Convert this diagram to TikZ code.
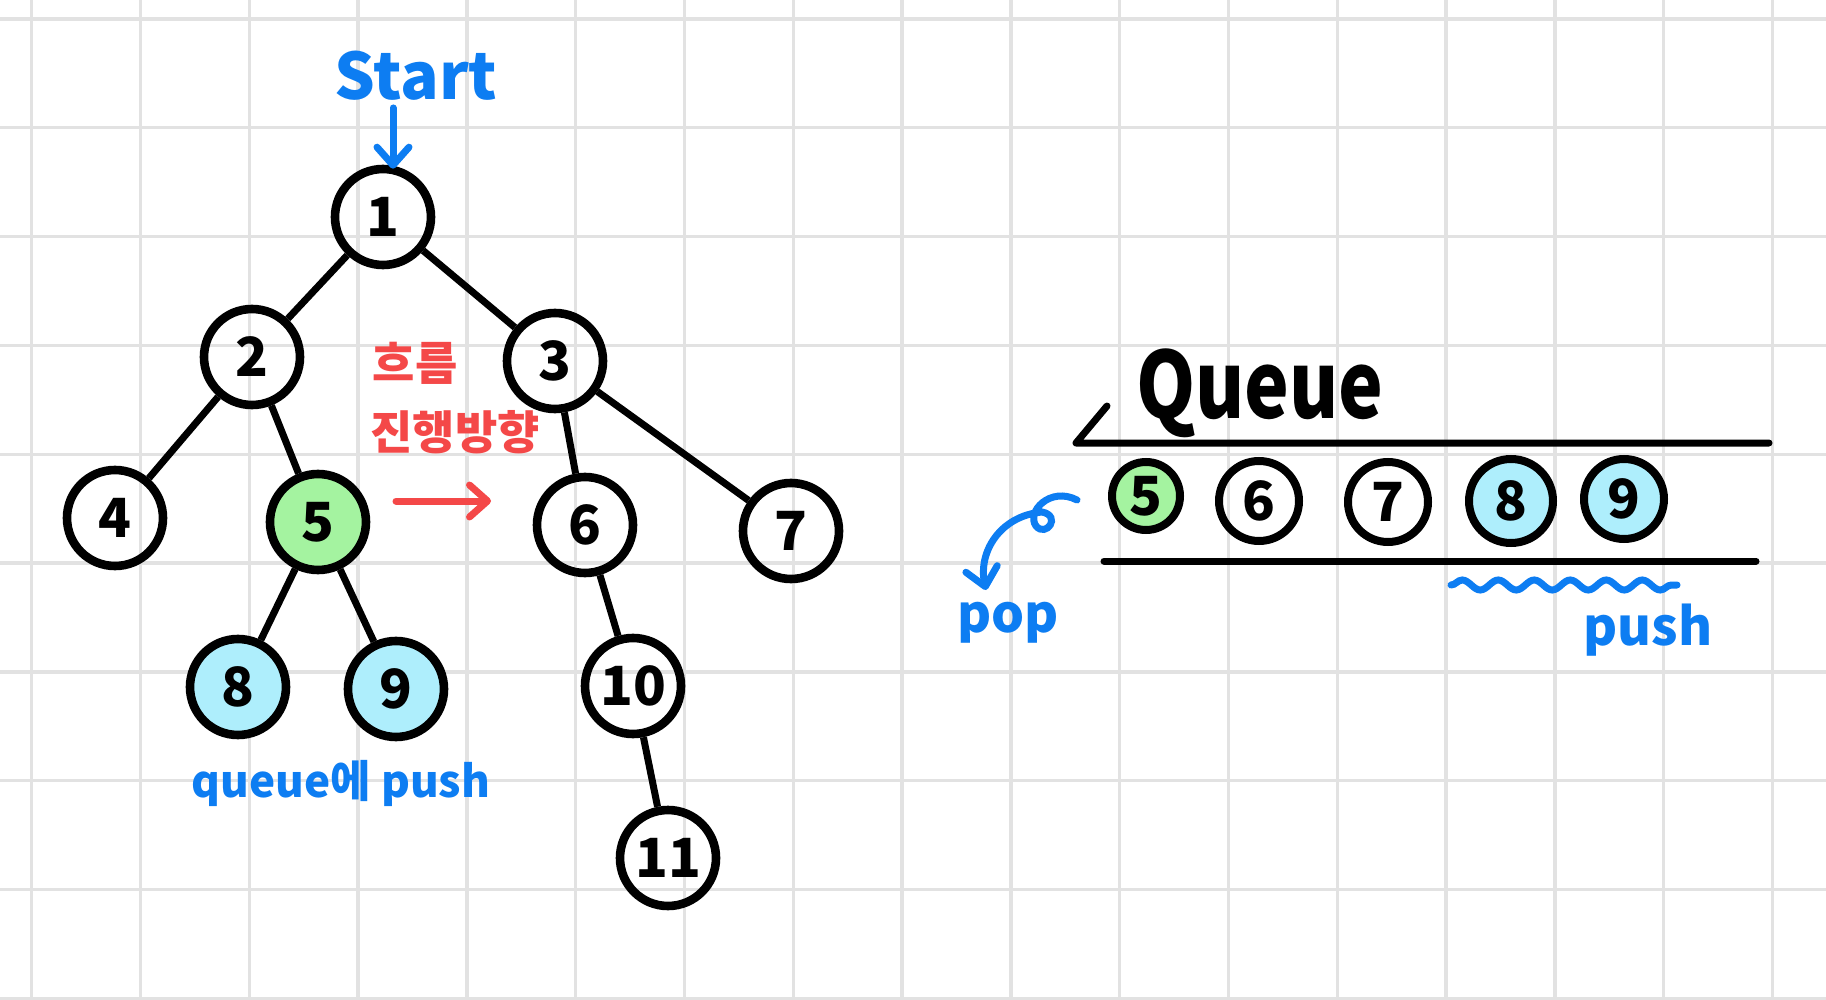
\documentclass[tikz,border=0pt]{standalone}
\usepackage{fontspec}
\setmainfont{Noto Sans CJK KR}
\usetikzlibrary{arrows.meta,decorations.pathmorphing}
\definecolor{penblue}{HTML}{0D7DF2}
\definecolor{penred}{HTML}{F44848}
\definecolor{popgreen}{HTML}{A4F3A0}
\definecolor{pushblue}{HTML}{AEEEFC}
\definecolor{gridgray}{HTML}{E2E2E2}
\tikzset{
  gridline/.style={gridgray, line width=1.7pt},
  treenode/.style={circle, draw, line width=4.3pt, minimum size=48pt,
    inner sep=0pt, font={\fontsize{27}{30}\selectfont\bfseries}},
  qnode/.style={circle, draw, line width=4pt, minimum size=40pt,
    inner sep=0pt, font={\fontsize{27}{30}\selectfont\bfseries}},
  treeedge/.style={line width=3.5pt},
  qline/.style={line width=3.5pt, line cap=round, line join=round},
  bluepen/.style={penblue, line width=3.5pt, line cap=round},
  redpen/.style={penred, line width=3.5pt, line cap=round},
  handtip/.style={-{Straight Barb[length=9pt, width=16pt, round]}}
}
\begin{document}
\begin{tikzpicture}[x=0.5pt, y=-0.5pt]
  \useasboundingbox (0,0) rectangle (1826,1000);
  \fill[white] (0,0) rectangle (1826,1000);
  % paper grid
  \foreach \gx in {0,...,16}
    \draw[gridline] ({31.6+108.8*\gx},0) -- ({31.6+108.8*\gx},1000);
  \foreach \gy in {0,...,9}
    \draw[gridline] (0,{19+108.8*\gy}) -- (1826,{19+108.8*\gy});
  % tree
  \node[treenode] (n1) at (383,217) {1};
  \node[treenode] (n2) at (252,357) {2};
  \node[treenode] (n3) at (555,361) {3};
  \node[treenode] (n4) at (115,518) {4};
  \node[treenode, fill=popgreen] (n5) at (318,522) {5};
  \node[treenode] (n6) at (585,525) {6};
  \node[treenode] (n7) at (791,531) {7};
  \node[treenode, fill=pushblue] (n8) at (238,687) {8};
  \node[treenode, fill=pushblue] (n9) at (396,689) {9};
  \node[treenode] (n10) at (633,686) {10};
  \node[treenode] (n11) at (668,858) {11};
  \foreach \a/\b in {n1/n2, n1/n3, n2/n4, n2/n5, n3/n6, n3/n7,
                     n5/n8, n5/n9, n6/n10, n10/n11}
    \draw[treeedge] (\a) -- (\b);
  % start marker
  \node[penblue, font={\fontsize{32}{34}\selectfont\bfseries}, anchor=base]
    (start) at (416,100) {Start};
  \draw[bluepen, handtip] ([xshift=5pt]n1.north |- start.south)
    -- ([xshift=5pt, yshift=-2pt]n1.north);
  % flow direction
  \node[penred, font={\fontsize{23}{25}\selectfont\bfseries}]
    (flowtop) at (415,363) {흐름};
  \node[penred, font={\fontsize{23}{25}\selectfont\bfseries}]
    (flowbot) at (455,432) {진행방향};
  \coordinate (flowL) at (396,501);
  \coordinate (flowR) at (491,501);
  \draw[redpen, handtip] (flowL) -- (flowR);
  \node[penblue, font={\fontsize{22}{24}\selectfont\bfseries}, anchor=base]
    (pushnote) at (341,797) {queue에 push};
  % queue
  \node[font={\fontsize{46}{48}\selectfont\bfseries}, anchor=base]
    (qlabel) at (1260,418) {\scalebox{0.82}[1]{Queue}};
  \draw[qline] (1107,406) -- (1076,443) -- (1769,443);
  \draw[qline] (1104,561) -- (1756,561);
  \node[qnode, fill=popgreen, minimum size=34pt] (q5) at (1146,496) {5};
  \node[qnode] (q6) at (1259,501) {6};
  \node[qnode] (q7) at (1388,502) {7};
  \node[qnode, fill=pushblue, minimum size=42pt] (q8) at (1511,501) {8};
  \node[qnode, fill=pushblue] (q9) at (1624,499) {9};
  % pop / push
  \draw[bluepen, handtip] (1077,500) .. controls (1050,486) and (1026,512)
    .. (1036,526) .. controls (1046,538) and (1062,516) .. (1042,512)
    .. controls (1000,516) and (978,552) .. (986,590);
  \node[penblue, font={\fontsize{26}{28}\selectfont\bfseries}, anchor=base]
    (poplabel) at (1008,632) {pop};
  \draw[bluepen, decorate, decoration={snake, amplitude=2.5pt,
    segment length=18pt}] (1451,585) -- (1677,585);
  \node[penblue, font={\fontsize{26}{28}\selectfont\bfseries}, anchor=base]
    (pushlabel) at (1648,645) {push};
\end{tikzpicture}
\end{document}
